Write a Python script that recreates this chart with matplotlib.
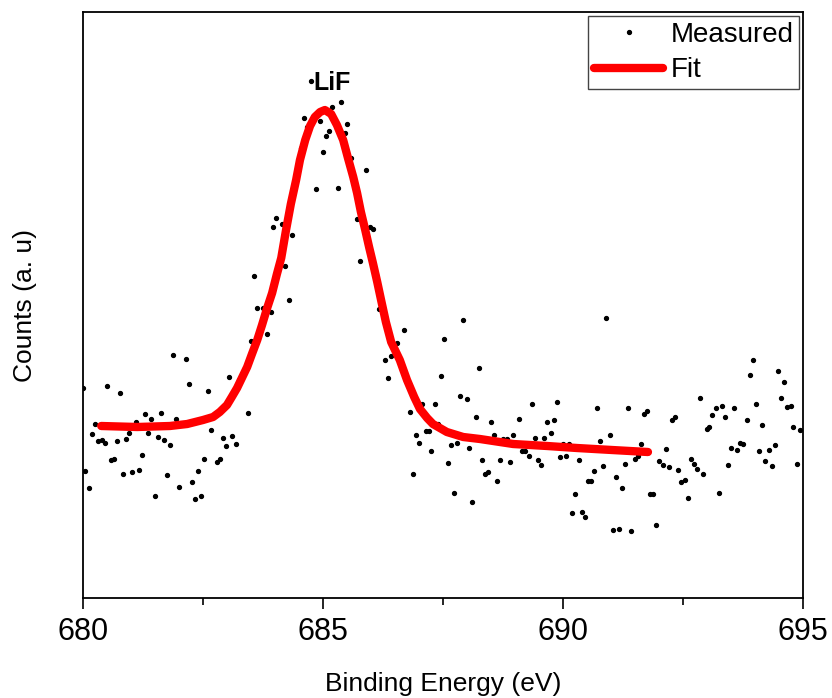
import numpy as np
import matplotlib
matplotlib.use("Agg")
import matplotlib.pyplot as plt
from matplotlib.ticker import MultipleLocator, NullLocator

plt.rcParams['font.family'] = ['Liberation Sans', 'DejaVu Sans']

# measured spectrum, F 1s region (binding energy in eV, counts in a.u.)
measured_energy = [
    680.00, 680.04, 680.13, 680.19, 680.25, 680.32, 680.39, 680.45, 680.51, 680.58,
    680.64, 680.71, 680.77, 680.83, 680.90, 680.96, 681.03, 681.10, 681.16, 681.22,
    681.29, 681.35, 681.42, 681.49, 681.56, 681.62, 681.69, 681.75, 681.81, 681.88,
    681.94, 682.01, 682.14, 682.20, 682.27, 682.33, 682.40, 682.46, 682.53, 682.60,
    682.66, 682.79, 682.85, 682.92, 682.98, 683.05, 683.11, 683.18, 683.24, 683.38,
    683.44, 683.51, 683.56, 683.63, 683.76, 683.83, 683.91, 683.96, 684.02, 684.15,
    684.21, 684.29, 684.35, 684.54, 684.60, 684.67, 684.74, 684.86, 684.94, 684.99,
    685.06, 685.13, 685.19, 685.32, 685.38, 685.46, 685.51, 685.58, 685.71, 685.77,
    685.90, 685.98, 686.04, 686.11, 686.16, 686.29, 686.36, 686.42, 686.55, 686.62,
    686.68, 686.75, 686.81, 686.88, 686.94, 687.01, 687.07, 687.14, 687.20, 687.26,
    687.33, 687.40, 687.46, 687.53, 687.60, 687.66, 687.72, 687.79, 687.85, 687.92,
    687.99, 688.05, 688.11, 688.18, 688.24, 688.31, 688.38, 688.44, 688.51, 688.57,
    688.63, 688.69, 688.76, 688.83, 688.90, 688.96, 689.09, 689.15, 689.21, 689.29,
    689.35, 689.41, 689.48, 689.54, 689.60, 689.67, 689.74, 689.81, 689.87, 689.93,
    690.00, 690.06, 690.13, 690.19, 690.26, 690.33, 690.39, 690.45, 690.52, 690.58,
    690.65, 690.71, 690.78, 690.84, 690.90, 690.97, 691.04, 691.10, 691.17, 691.23,
    691.30, 691.36, 691.42, 691.49, 691.56, 691.63, 691.69, 691.75, 691.81, 691.88,
    691.94, 692.01, 692.08, 692.15, 692.21, 692.27, 692.34, 692.40, 692.46, 692.54,
    692.60, 692.66, 692.72, 692.79, 692.85, 692.92, 692.99, 693.05, 693.11, 693.18,
    693.24, 693.31, 693.38, 693.44, 693.50, 693.57, 693.63, 693.69, 693.76, 693.83,
    693.89, 693.96, 694.02, 694.08, 694.15, 694.21, 694.29, 694.35, 694.41, 694.48,
    694.54, 694.61, 694.67, 694.74, 694.80, 694.87, 694.94,
]
measured_counts = [
    210, 127, 110, 164, 174, 157, 158, 155, 212, 138,
    139, 157, 205, 124, 159, 165, 126, 176, 128, 143,
    184, 165, 179, 102, 161, 185, 158, 123, 153, 243,
    179, 111, 239, 214, 116, 99, 127, 102, 139, 207,
    168, 136, 139, 160, 152, 221, 162, 154, 218, 230,
    185, 257, 322, 290, 290, 264, 286, 371, 380, 374,
    332, 298, 363, 450, 480, 471, 517, 409, 477, 446,
    462, 467, 491, 410, 496, 465, 474, 440, 379, 337,
    428, 371, 369, 324, 289, 238, 220, 242, 255, 235,
    268, 216, 186, 124, 163, 155, 194, 167, 167, 147,
    194, 174, 222, 259, 135, 153, 105, 155, 202, 278,
    199, 150, 96, 181, 230, 138, 124, 126, 176, 163,
    117, 138, 159, 159, 136, 163, 179, 147, 147, 142,
    194, 160, 138, 133, 160, 176, 165, 178, 196, 141,
    154, 142, 154, 85, 104, 138, 86, 81, 117, 117,
    127, 190, 157, 132, 280, 163, 68, 121, 69, 110,
    134, 190, 67, 139, 142, 154, 184, 187, 104, 104,
    73, 137, 133, 149, 131, 178, 181, 128, 116, 118,
    100, 139, 134, 129, 200, 124, 169, 171, 183, 190,
    105, 192, 181, 133, 150, 190, 148, 155, 154, 178,
    223, 238, 194, 147, 173, 137, 148, 132, 153, 227,
    200, 216, 191, 192, 171, 134, 168,
]

# peak fit envelope (LiF component + background)
fit_energy = [
    680.38, 681.13, 681.81, 682.17, 682.50, 682.71, 682.85, 683.00, 683.10, 683.21,
    683.31, 683.42, 683.52, 683.63, 683.73, 683.83, 683.94, 684.04, 684.13, 684.23,
    684.33, 684.44, 684.52, 684.63, 684.73, 684.83, 684.94, 685.04, 685.17, 685.29,
    685.42, 685.52, 685.63, 685.71, 685.79, 685.88, 685.96, 686.04, 686.13, 686.21,
    686.31, 686.42, 686.60, 686.75, 686.90, 687.02, 687.17, 687.29, 687.58, 687.92,
    688.27, 688.96, 689.67, 690.29, 691.02, 691.77,
]
fit_counts = [
    172, 171, 172, 174, 178, 181, 186, 193, 201, 210,
    220, 231, 244, 258, 273, 289, 305, 324, 340, 368,
    394, 418, 438, 458, 472, 481, 486, 488, 484, 473,
    458, 440, 421, 405, 386, 368, 351, 335, 316, 298,
    276, 256, 238, 218, 201, 189, 180, 174, 166, 161,
    159, 154, 152, 150, 148, 146,
]

fig = plt.figure(figsize=(8.32, 6.98), dpi=100)
ax = fig.add_axes([83 / 832, 100 / 698, 720 / 832, 586 / 698])

ax.plot(measured_energy, measured_counts, linestyle='none', marker='o',
        markersize=2.8, color='black', label='Measured')
ax.plot(fit_energy, fit_counts, color='#ff0000', linewidth=6,
        solid_capstyle='round', solid_joinstyle='round', label='Fit')

ax.text(685.18, 515, 'LiF', ha='center', va='center', fontsize=18,
        fontweight='bold')

ax.set_xlim(680, 695)
ax.set_ylim(0, 586)
ax.xaxis.set_major_locator(MultipleLocator(5))
ax.xaxis.set_minor_locator(MultipleLocator(2.5))
ax.yaxis.set_major_locator(NullLocator())
ax.tick_params(axis='x', which='major', direction='out', length=8, width=1.2,
               labelsize=22, pad=6)
ax.tick_params(axis='x', which='minor', direction='out', length=5, width=1.2)
for s in ax.spines.values():
    s.set_linewidth(1.3)

ax.set_xlabel('Binding Energy (eV)', fontsize=19, labelpad=18)
ax.set_ylabel('Counts (a. u)', fontsize=19, labelpad=33)

leg = ax.legend(loc='upper right', fontsize=20, frameon=True, fancybox=False,
                edgecolor='#444444', framealpha=1, handlelength=2.5,
                handletextpad=0.25, labelspacing=0.35, borderpad=0.2,
                borderaxespad=0.15, markerscale=1.0)
leg.get_frame().set_linewidth(1.0)

fig.savefig('out.png', dpi=100)
